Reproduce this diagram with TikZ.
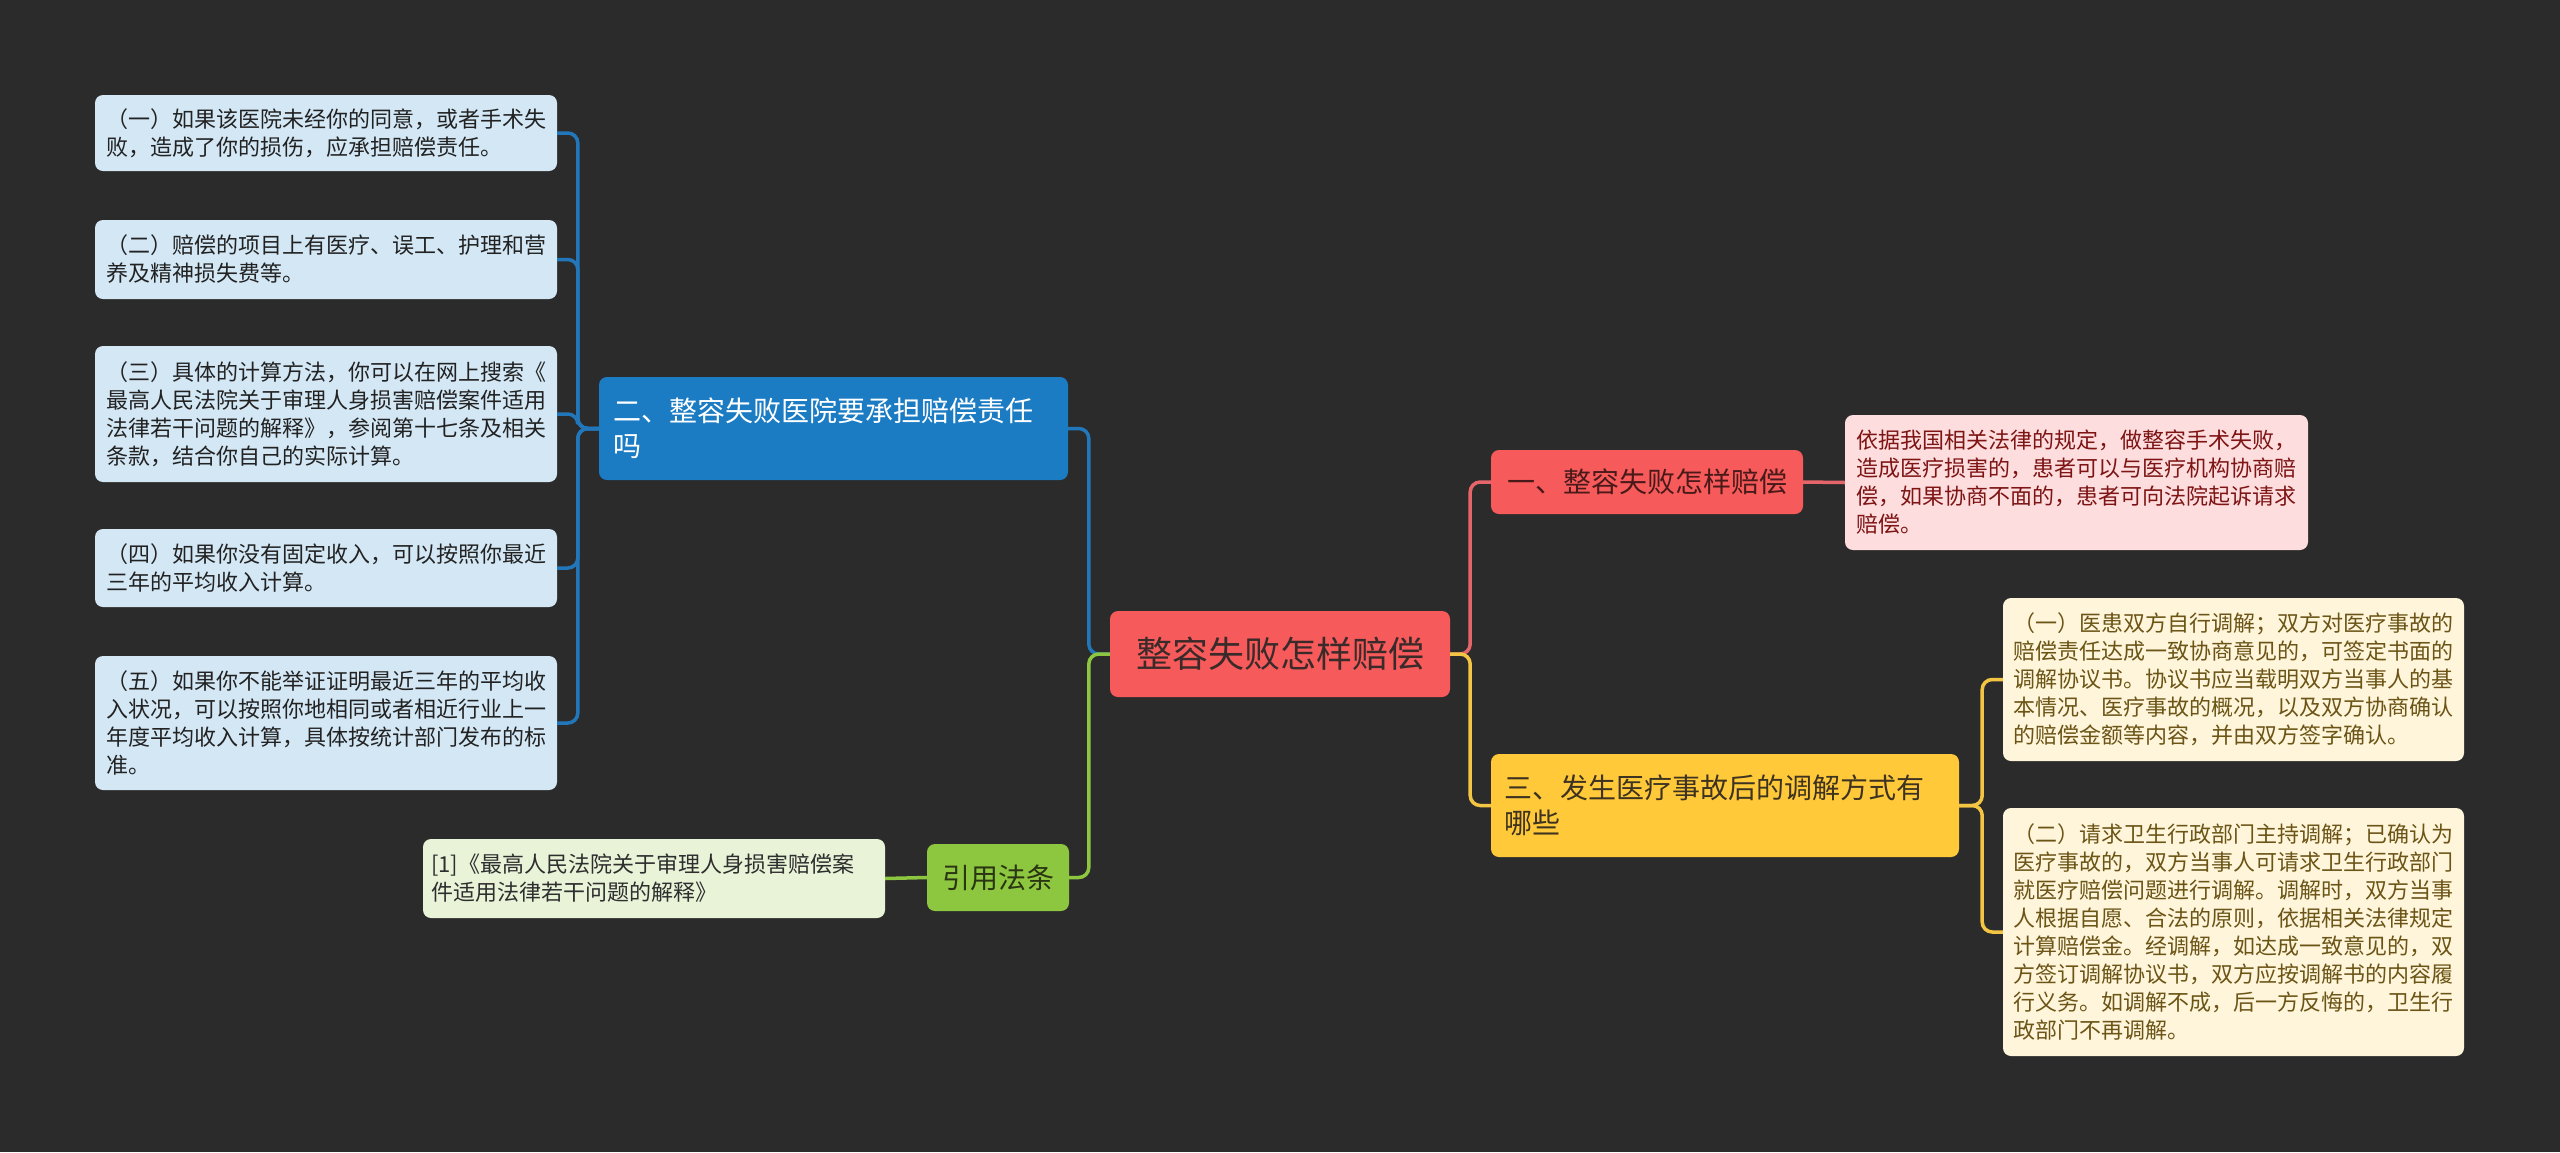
\documentclass[tikz,border=0pt]{standalone}
\usepackage{fontspec}
\setmainfont{Noto Sans CJK SC}
\definecolor{bg}{HTML}{2B2B2B}
\definecolor{rootfill}{HTML}{F75A5A}
\definecolor{roottext}{HTML}{3B2A2A}
\definecolor{bluecon}{HTML}{2277BB}
\definecolor{bluefill}{HTML}{1B7CC3}
\definecolor{bleaffill}{HTML}{D3E7F5}
\definecolor{bleaftext}{HTML}{222222}
\definecolor{greencon}{HTML}{8DC63F}
\definecolor{greenfill}{HTML}{8DC63F}
\definecolor{greentext}{HTML}{2A3512}
\definecolor{citefill}{HTML}{E8F3D8}
\definecolor{citetext}{HTML}{2E2E2E}
\definecolor{redcon}{HTML}{E5656A}
\definecolor{redfill}{HTML}{F75A5A}
\definecolor{redtext}{HTML}{4A1A1A}
\definecolor{rleaffill}{HTML}{FDDDDE}
\definecolor{rleaftext}{HTML}{7E1414}
\definecolor{yelcon}{HTML}{F4C443}
\definecolor{yelfill}{HTML}{FFC93A}
\definecolor{yeltext}{HTML}{3D3320}
\definecolor{yleaffill}{HTML}{FEF5DA}
\definecolor{yleaftext}{HTML}{6B5416}
\tikzset{
  box/.style={rounded corners=8pt, inner ysep=0pt, anchor=center},
  leaftxt/.style={font=\fontsize{22}{28}\selectfont, align=left},
  bleaf/.style={box, leaftxt, fill=bleaffill, text=bleaftext, inner xsep=11pt, text width=440pt},
  rleaf/.style={box, leaftxt, fill=rleaffill, text=rleaftext, inner xsep=11pt, text width=441pt},
  yleaf/.style={box, leaftxt, fill=yleaffill, text=yleaftext, inner xsep=10.5pt, text width=440pt},
  citeleaf/.style={box, leaftxt, fill=citefill, text=citetext, inner xsep=8pt, text width=446pt},
  branchtxt/.style={font=\fontsize{28}{35}\selectfont},
  con/.style={line width=3.5pt, rounded corners=10pt},
}
\begin{document}
\begin{tikzpicture}[x=1pt,y=-1pt]
\fill[bg] (0,0) rectangle (2560,1152);
\useasboundingbox (0,0) rectangle (2560,1152);

% root
\node[box, fill=rootfill, text=roottext, minimum width=340pt, minimum height=86pt, font=\fontsize{36}{42}\selectfont] (root) at (1280,654) {整容失败怎样赔偿};

% blue branch
\node[box, branchtxt, fill=bluefill, text=white, inner xsep=14pt, text width=441pt, align=left, minimum height=103pt] (blue) at (833.5,428.5) {二、整容失败医院要承担赔偿责任\\吗};

\node[bleaf, minimum height=76pt] (b1) at (326,133) {（一）如果该医院未经你的同意，或者手术失\\败，造成了你的损伤，应承担赔偿责任。};
\node[bleaf, minimum height=79pt] (b2) at (326,259.5) {（二）赔偿的项目上有医疗、误工、护理和营\\养及精神损失费等。};
\node[bleaf, minimum height=136pt] (b3) at (326,414) {（三）具体的计算方法，你可以在网上搜索《\\最高人民法院关于审理人身损害赔偿案件适用\\法律若干问题的解释》，参阅第十七条及相关\\条款，结合你自己的实际计算。};
\node[bleaf, minimum height=78pt] (b4) at (326,568) {（四）如果你没有固定收入，可以按照你最近\\三年的平均收入计算。};
\node[bleaf, minimum height=134pt] (b5) at (326,723) {（五）如果你不能举证证明最近三年的平均收\\入状况，可以按照你地相同或者相近行业上一\\年度平均收入计算，具体按统计部门发布的标\\准。};

% green branch
\node[box, branchtxt, fill=greenfill, text=greentext, minimum width=142pt, minimum height=67pt] (green) at (998,877.5) {引用法条};
\node[citeleaf, minimum height=79pt] (cite) at (654,878.5) {[1]《最高人民法院关于审理人身损害赔偿案\\件适用法律若干问题的解释》};

% red branch
\node[box, branchtxt, fill=redfill, text=redtext, minimum width=312pt, minimum height=64pt] (red) at (1647,482) {一、整容失败怎样赔偿};
\node[rleaf, minimum height=135pt] (r1) at (2076.5,482.5) {依据我国相关法律的规定，做整容手术失败，\\造成医疗损害的，患者可以与医疗机构协商赔\\偿，如果协商不面的，患者可向法院起诉请求\\赔偿。};

% yellow branch
\node[box, branchtxt, fill=yelfill, text=yeltext, inner xsep=13pt, text width=442pt, align=left, minimum height=103pt] (yel) at (1725,805.5) {三、发生医疗事故后的调解方式有\\哪些};
\node[yleaf, minimum height=163pt] (y1) at (2233.5,679.5) {（一）医患双方自行调解；双方对医疗事故的\\赔偿责任达成一致协商意见的，可签定书面的\\调解协议书。协议书应当载明双方当事人的基\\本情况、医疗事故的概况，以及双方协商确认\\的赔偿金额等内容，并由双方签字确认。};
\node[yleaf, minimum height=248pt] (y2) at (2233.5,932) {（二）请求卫生行政部门主持调解；已确认为\\医疗事故的，双方当事人可请求卫生行政部门\\就医疗赔偿问题进行调解。调解时，双方当事\\人根据自愿、合法的原则，依据相关法律规定\\计算赔偿金。经调解，如达成一致意见的，双\\方签订调解协议书，双方应按调解书的内容履\\行义务。如调解不成，后一方反悔的，卫生行\\政部门不再调解。};

% connectors
\begin{scope}[on background layer/.try]
\end{scope}
\draw[con, bluecon] (root.west) -- ++(-21,0) |- (blue.east);
\draw[con, greencon] (root.west) -- ++(-21,0) |- (green.east);
\draw[con, greencon] (green.west) -- (cite.east);
\foreach \n in {b1,b2,b3,b4,b5}{
  \draw[con, bluecon] (blue.west) -- ++(-21,0) |- (\n.east);
}
\draw[con, redcon] (root.east) -- ++(20,0) |- (red.west);
\draw[con, yelcon] (root.east) -- ++(20,0) |- (yel.west);
\draw[con, redcon] (red.east) -- (r1.west);
\draw[con, yelcon] (yel.east) -- ++(23,0) |- (y1.west);
\draw[con, yelcon] (yel.east) -- ++(23,0) |- (y2.west);
\end{tikzpicture}
\end{document}
